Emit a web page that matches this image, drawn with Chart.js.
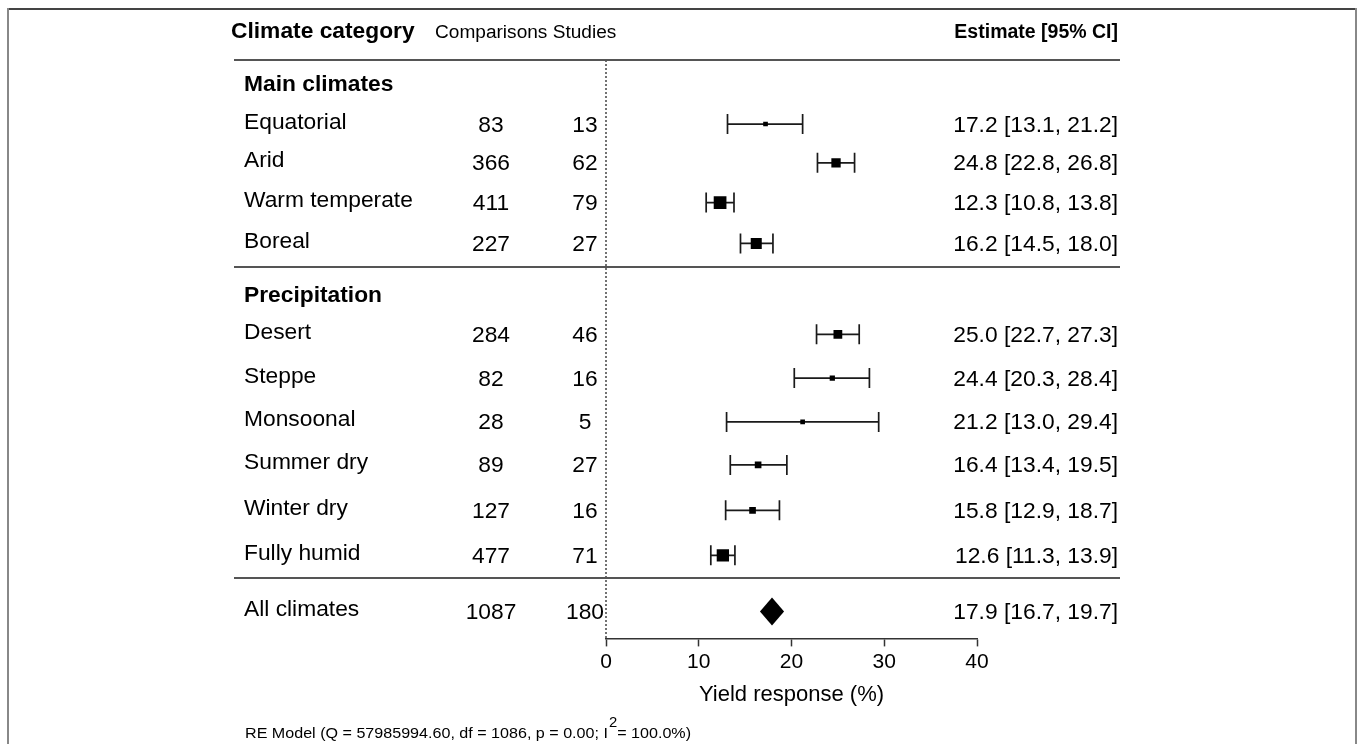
<!DOCTYPE html>
<html><head><meta charset="utf-8">
<script src="https://cdn.jsdelivr.net/npm/chart.js@4"></script>
<style>html,body{margin:0;padding:0;background:#fff;}canvas{display:block;}</style>
</head><body>
<canvas id="c" width="1358" height="744"></canvas>
<script>
// ---------- data ----------
const categories = ["Equatorial","Arid","Warm temperate","Boreal","Desert","Steppe","Monsoonal","Summer dry","Winter dry","Fully humid"];
const comparisons = [83,366,411,227,284,82,28,89,127,477];
const studies     = [13,62,79,27,46,16,5,27,16,71];
const estimate    = [17.2,24.8,12.3,16.2,25.0,24.4,21.2,16.4,15.8,12.6];
const ciLower     = [13.1,22.8,10.8,14.5,22.7,20.3,13.0,13.4,12.9,11.3];
const ciUpper     = [21.2,26.8,13.8,18.0,27.3,28.4,29.4,19.5,18.7,13.9];
const groupNames  = ["Main climates","Precipitation"];
const pooledLabel = "All climates";
const pooledComparisons = 1087;
const pooledStudies = 180;
const pooledEstimate = 17.9;
const pooledLower = 16.7;
const pooledUpper = 19.7;
const pooledDrawn = [16.6, 17.9, 19.2];   // diamond corners as drawn in the picture
const xTicks = [0,10,20,30,40];
const headerTexts = ["Climate category","Comparisons Studies","Estimate [95% CI]"];
const axisTitle = "Yield response (%)";
const footnote = ["RE Model (Q = 57985994.60, df = 1086, p = 0.00; I","2","= 100.0%)"];

// ---------- layout (row positions, in row units on the y scale) ----------
const rowOfCategory = [1.55,2.49,3.45,4.44,6.64,7.70,8.76,9.80,10.90,11.99];
const rowOfGroup = [0.58,5.68];
const rowOfPooled = 13.35;
const separatorRows = [0,5.02,12.55];
const markerRadius = [3.3,6.6,9.0,7.8,6.2,3.7,3.3,4.7,4.7,8.7];

const FONT = '"Liberation Sans", Arial, Helvetica, sans-serif';
const SX = 1.06; // horizontal stretch of the reference text
const fmt = v => v.toFixed(1);

function txt(ctx, s, x, y, align, sx) {
  ctx.save();
  ctx.translate(x, y);
  ctx.scale(sx === undefined ? SX : sx, 1);
  ctx.textAlign = align;
  ctx.fillText(s, 0, 0);
  ctx.restore();
}

const forestPlugin = {
  id: 'forest',
  beforeDatasetsDraw(chart) {
    const {ctx, scales: {x, y}, chartArea} = chart;
    ctx.save();
    // dotted reference line at 0
    ctx.strokeStyle = '#444';
    ctx.lineWidth = 1.5;
    ctx.setLineDash([2, 2]);
    const x0 = x.getPixelForValue(0);
    ctx.beginPath();
    ctx.moveTo(x0, chartArea.top);
    ctx.lineTo(x0, chartArea.bottom);
    ctx.stroke();
    ctx.setLineDash([]);
    // error bars
    ctx.strokeStyle = '#1a1a1a';
    ctx.lineWidth = 1.7;
    categories.forEach((c, i) => {
      const py = y.getPixelForValue(rowOfCategory[i]);
      const l = x.getPixelForValue(ciLower[i]);
      const u = x.getPixelForValue(ciUpper[i]);
      ctx.beginPath();
      ctx.moveTo(l, py); ctx.lineTo(u, py);
      ctx.moveTo(l, py - 10); ctx.lineTo(l, py + 10);
      ctx.moveTo(u, py - 10); ctx.lineTo(u, py + 10);
      ctx.stroke();
    });
    // pooled diamond
    const py = y.getPixelForValue(rowOfPooled);
    const [a, m, b] = pooledDrawn.map(v => x.getPixelForValue(v));
    ctx.fillStyle = '#000';
    ctx.beginPath();
    ctx.moveTo(a, py); ctx.lineTo(m, py - 14); ctx.lineTo(b, py); ctx.lineTo(m, py + 14);
    ctx.closePath();
    ctx.fill();
    ctx.restore();
  },
  afterDraw(chart) {
    const {ctx, scales: {y}} = chart;
    ctx.save();
    // frame
    ctx.lineWidth = 2;
    ctx.strokeStyle = '#444';
    ctx.beginPath(); ctx.moveTo(8, 9); ctx.lineTo(1357, 9); ctx.stroke();
    ctx.strokeStyle = '#888';
    ctx.beginPath(); ctx.moveTo(8, 8); ctx.lineTo(8, 744); ctx.moveTo(1356, 8); ctx.lineTo(1356, 744); ctx.stroke();
    // separators
    ctx.strokeStyle = '#555';
    ctx.lineWidth = 2;
    separatorRows.forEach(r => {
      const py = Math.round(y.getPixelForValue(r));
      ctx.beginPath(); ctx.moveTo(234, py); ctx.lineTo(1120, py); ctx.stroke();
    });
    ctx.fillStyle = '#000';
    ctx.textBaseline = 'alphabetic';
    // headers
    ctx.font = 'bold 21.5px ' + FONT;
    txt(ctx, headerTexts[0], 231, 38, 'left');
    ctx.font = 'bold 19.5px ' + FONT;
    txt(ctx, headerTexts[2], 1118, 38, 'right', 1.0);
    ctx.font = '18px ' + FONT;
    txt(ctx, headerTexts[1], 435, 38, 'left');
    // group headings
    ctx.font = 'bold 21.5px ' + FONT;
    groupNames.forEach((g, i) => {
      txt(ctx, g, 244, y.getPixelForValue(rowOfGroup[i]) + 7.5, 'left');
    });
    // rows
    ctx.font = '21.5px ' + FONT;
    const drawRow = (label, comp, stud, est, lo, hi, row) => {
      const py = y.getPixelForValue(row);
      txt(ctx, label, 244, py + 4.5, 'left');
      txt(ctx, String(comp), 491, py + 7.5, 'center');
      txt(ctx, String(stud), 585, py + 7.5, 'center');
      txt(ctx, fmt(est) + ' [' + fmt(lo) + ', ' + fmt(hi) + ']', 1118, py + 7.5, 'right');
    };
    categories.forEach((c, i) => drawRow(c, comparisons[i], studies[i], estimate[i], ciLower[i], ciUpper[i], rowOfCategory[i]));
    drawRow(pooledLabel, pooledComparisons, pooledStudies, pooledEstimate, pooledLower, pooledUpper, rowOfPooled);
    // footnote
    ctx.font = '15.2px ' + FONT;
    let fx = 245;
    txt(ctx, footnote[0], fx, 738, 'left');
    fx += ctx.measureText(footnote[0]).width * SX;
    ctx.font = '14px ' + FONT;
    txt(ctx, footnote[1], fx + 1, 727, 'left');
    fx += ctx.measureText(footnote[1]).width * SX;
    ctx.font = '15.2px ' + FONT;
    txt(ctx, footnote[2], fx + 1, 738, 'left');
    ctx.restore();
  }
};

new Chart(document.getElementById('c'), {
  type: 'scatter',
  data: {
    datasets: [{
      data: categories.map((c, i) => ({x: estimate[i], y: rowOfCategory[i]})),
      pointStyle: 'rect',
      pointRadius: markerRadius,
      pointHoverRadius: markerRadius,
      backgroundColor: '#000',
      borderWidth: 0
    }]
  },
  options: {
    responsive: false,
    animation: false,
    events: [],
    layout: {padding: {left: 606, right: 381, top: 60, bottom: 32}},
    plugins: {legend: {display: false}, tooltip: {enabled: false}},
    scales: {
      x: {
        type: 'linear', min: 0, max: 40,
        afterBuildTicks: s => { s.ticks = xTicks.map(v => ({value: v})); },
        ticks: {color: '#000', font: {family: FONT, size: 21}, padding: 3},
        grid: {drawOnChartArea: false, drawTicks: true, tickLength: 8, tickColor: '#333', tickWidth: 1.5},
        border: {color: '#333', width: 1.5},
        title: {display: true, text: axisTitle, color: '#000', font: {family: FONT, size: 22}, padding: {top: 4, bottom: 4}}
      },
      y: {type: 'linear', reverse: true, min: 0, max: 14, display: false}
    }
  },
  plugins: [forestPlugin]
});
</script>
</body></html>
